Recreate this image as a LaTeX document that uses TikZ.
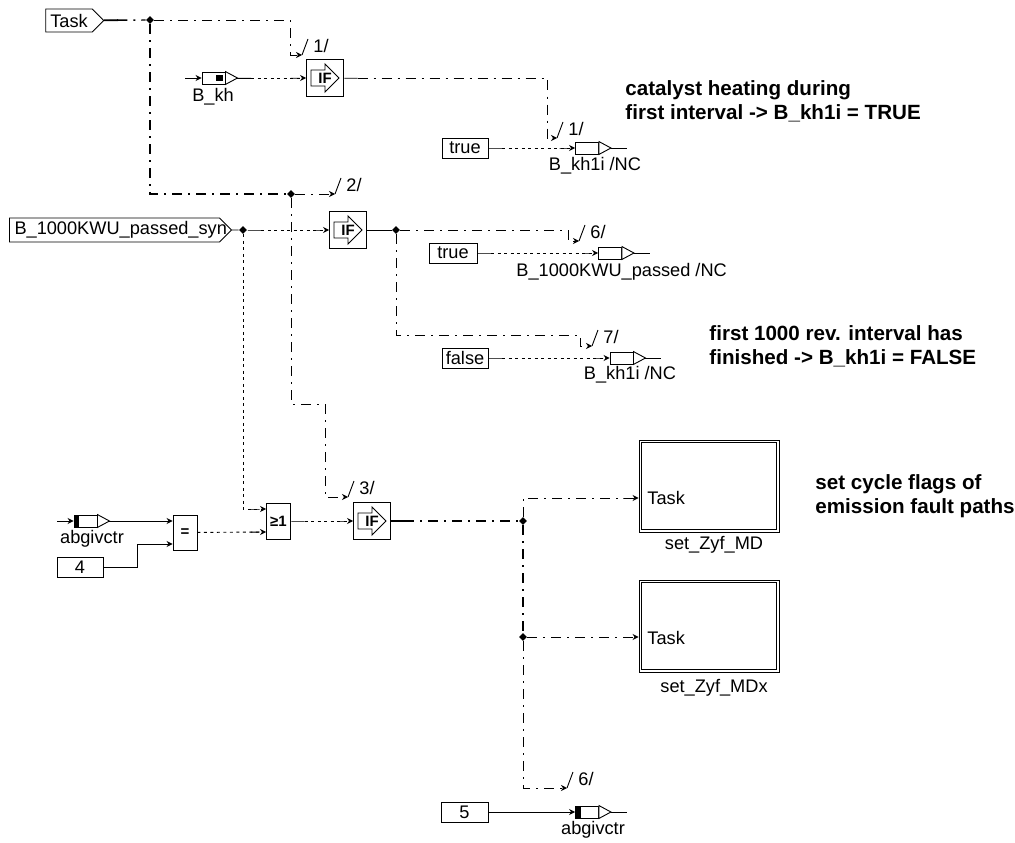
\documentclass[tikz,border=0pt]{standalone}
\usepackage{fontspec}
\setmainfont{Liberation Sans}
\usetikzlibrary{shapes.geometric, shapes.symbols, arrows.meta, calc}
\tikzset{
    % Components
    port/.style = {draw, signal, signal to=east, inner sep=0pt, font=\fontsize{18.2}{20}\selectfont},
    const/.style = {draw, rectangle, inner sep=0pt, minimum height=20, font=\fontsize{18.2}{20}\selectfont},
    msg/.style = {draw, rectangle, inner sep=0pt, minimum width=23, minimum height=12},
    msgin/.style = {msg, path picture={\fill (path picture bounding box.north west) rectangle ([xshift=5pt]path picture bounding box.south west);}},
    ifbox/.style = {draw, rectangle, inner sep=0pt, minimum size=37, font=\fontsize{15}{18}\selectfont\bfseries,
        path picture={\draw ($(path picture bounding box.center)+(-14,-8)$) -- ++(14,0) -- ++(0,-6) -- ++(14,14) -- ++(-14,14) -- ++(0,-6) -- ++(-14,0) -- cycle;}},
    gate/.style = {draw, rectangle, inner sep=0pt, minimum width=24, font=\fontsize{15}{15}\selectfont\bfseries},
    subsys/.style = {draw, rectangle, minimum width=140, minimum height=92,
        path picture={\draw ([shift={(2.5pt,2.5pt)}]path picture bounding box.south west) rectangle ([shift={(-2.5pt,-2.5pt)}]path picture bounding box.north east);}},
    junction/.style = {diamond, fill=black, inner sep=0pt, minimum size=8},
    % Edges and annotations
    plainarrow/.tip = {Stealth[length=6pt,width=6pt]},
    stubarrow/.tip = {Rectangle[length=10pt,width=0.9pt] Stealth[length=6pt,width=6pt]},
    stubline/.tip = {Rectangle[length=14pt,width=0.9pt]},
    solidline/.style = {line width=0.9pt, -plainarrow},
    taskline/.style = {line width=0.9pt, dash pattern=on 10pt off 6pt on 2pt off 6pt},
    dataline/.style = {line width=0.9pt, dash pattern=on 3pt off 3.5pt},
    lbl/.style = {inner sep=0pt, font=\fontsize{18.2}{20}\selectfont},
    annotation/.style = {inner sep=0pt, align=left, anchor=west, font=\fontsize{20.6}{24}\selectfont\bfseries}
}
\begin{document}
\begin{tikzpicture}[x=1pt, y=-1pt, line width=0.9pt]
    \useasboundingbox (0,0) rectangle (1015,843);

    % Nodes
    \node (task) [port, minimum width=58, minimum height=23] at (69,20.5) {Task};
    \node (syn) [port, minimum width=221, minimum height=24] at (114.5,230) {\makebox[210pt][l]{\hspace{5pt}B\_1000KWU\_passed\_syn}};

    \node (jtask) [junction] at (150,20) {};
    \node (jtwo) [junction] at (291,194) {};
    \node (jsyn) [junction] at (243,230) {};
    \node (jout) [junction] at (396,230) {};
    \node (jcyc) [junction] at (523,521) {};
    \node (jmdx) [junction] at (523,637) {};

    \node (bkh) [msgin, path picture={\fill ([xshift=14pt,yshift=-3pt]path picture bounding box.north west) rectangle ([xshift=21pt,yshift=3pt]path picture bounding box.south west);}] at (213.5,78) {};
    \node (abg) [msgin] at (85.5,521) {};
    \node (abgout) [msgin] at (587,812) {};
    \node (khone) [msg] at (587,148) {};
    \node (passed) [msg] at (610,253) {};
    \node (khtwo) [msg] at (621.5,358) {};

    \node (ifa) [ifbox] at (325,78) {IF\hspace{3pt}};
    \node (ifb) [ifbox] at (348,230) {IF\hspace{3pt}};
    \node (ifc) [ifbox] at (372,521) {IF\hspace{3pt}};

    \node (truea) [const, minimum width=46] at (465,148) {true};
    \node (trueb) [const, minimum width=48] at (453,253) {true};
    \node (falsea) [const, minimum width=46] at (465,358) {false};
    \node (four) [const, minimum width=46] at (80,567.5) {4};
    \node (five) [const, minimum width=47] at (464.5,812) {5};

    \node (eq) [gate, minimum height=35] at (185,532.5) {=};
    \node (orb) [gate, minimum height=36] at (278.5,521) {≥1};

    \node (md) [subsys] at (709,486) {};
    \node (mdx) [subsys] at (709,626) {};
    \node (mdtask) [lbl, anchor=west] at (647,498) {Task};
    \node (mdxtask) [lbl, anchor=west] at (647,638) {Task};

    % Labels
    \node (lbkh) [lbl] at (213,97) {B\_kh};
    \node (lkhone) [lbl] at (595,166) {B\_kh1i /NC};
    \node (lpassed) [lbl, anchor=west] at (516,272) {B\_1000KWU\_passed /NC};
    \node (lkhtwo) [lbl] at (630,375) {B\_kh1i /NC};
    \node (labg) [lbl] at (92,539) {abgivctr};
    \node (labgout) [lbl] at (593,830) {abgivctr};
    \node (lmd) [lbl] at (714,545) {set\_Zyf\_MD};
    \node (lmdx) [lbl] at (714,688) {set\_Zyf\_MDx};

    \node (notea) [annotation] at (625,101) {catalyst heating during\\first interval -> B\_kh1i = TRUE};
    \node (noteb) [annotation] at (709,346) {first 1000 rev. interval has\\finished -> B\_kh1i = FALSE};
    \node (notec) [annotation] at (815,496) {set cycle flags of\\emission fault paths};

    % Message tips and their free ends
    \foreach \n in {bkh,abg,abgout,khone,passed,khtwo} {
        \coordinate (\n tip) at ($(\n.east)+(12,0)$);
        \coordinate (\n end) at ($(\n.east)+(28,0)$);
        \draw[fill=white] (\n.north east) -- (\n tip) -- (\n.south east) -- cycle;
        \draw (\n tip) -- (\n end);
    }
    \coordinate (bkhstart) at (185,78);
    \coordinate (abgstart) at (57,521);
    \draw [solidline] (bkhstart) -- (bkh);
    \draw [solidline] (abgstart) -- (abg);

    % Sequence marks
    \foreach \n/\x/\y/\t in {sa/302/55/1,sb/335/194/2,sc/348/497/3,sd/557/138/1,se/579/241/6,sf/592/346/7,sg/567/788/6} {
        \coordinate (\n) at (\x,\y);
        \draw (\n) -- +(6,-16);
        \node (\n txt) [lbl, anchor=west] at ($(\n)+(11,-9)$) {\t/};
    }

    % Edges
    \draw [taskline, line width=1.4pt, stubline-] (task) -- (jtask);
    \draw [taskline, -plainarrow] (jtask) -| ([xshift=-12pt]sa.center) -- (sa);
    \draw [taskline, line width=1.4pt] (jtask) |- (jtwo);
    \draw [taskline, -stubarrow] (jtwo) -- (sb);
    \draw [taskline, -plainarrow] (jtwo) |- ([xshift=-23pt,yshift=93pt]sc.center) -- ([xshift=-23pt]sc.center) -- (sc);

    \draw [dataline, stubline-stubarrow] (bkhtip) -- (ifa);
    \draw [taskline, stubline-plainarrow] (ifa) -| ([xshift=-10pt]sd.center) -- (sd);
    \draw [dataline, stubline-stubarrow] (truea) -- (khone);

    \draw [dataline, stubline-stubarrow] (jsyn) -- (ifb);
    \draw (syn) -- (jsyn);
    \draw (ifb) -- (jout);
    \draw [taskline, -plainarrow] (jout) -| ([xshift=-11pt]se.center) -- (se);
    \draw [taskline, -plainarrow] (jout) |- ([xshift=-12pt,yshift=11pt]sf.center) -- ([xshift=-12pt]sf.center) -- (sf);
    \draw [dataline, stubline-stubarrow] (trueb) -- (passed);
    \draw [dataline, stubline-stubarrow] (falsea) -- (khtwo);

    \draw [dataline, -stubarrow] (jsyn) |- ([yshift=12pt]orb.west);
    \draw [solidline] (abgtip) -- ([yshift=11.5pt]eq.west);
    \draw [solidline] (four) -| ([xshift=-35pt,yshift=-11.5pt]eq.west) -- ([yshift=-11.5pt]eq.west);
    \draw [dataline, -stubarrow] (eq) -- ([yshift=-11pt]orb.west);
    \draw [dataline, stubline-stubarrow] (orb) -- (ifc);

    \draw [taskline, line width=1.4pt, stubline-] (ifc) -- (jcyc);
    \draw [taskline, -stubarrow] (jcyc) |- (md.west |- mdtask);
    \draw [taskline, line width=1.4pt] (jcyc) -- (jmdx);
    \draw [taskline, -stubarrow] (jmdx) -- (mdx.west |- jmdx);
    \draw [taskline, -plainarrow] (jmdx) |- (sg);
    \draw [solidline] (five) -- (abgout);
\end{tikzpicture}
\end{document}
